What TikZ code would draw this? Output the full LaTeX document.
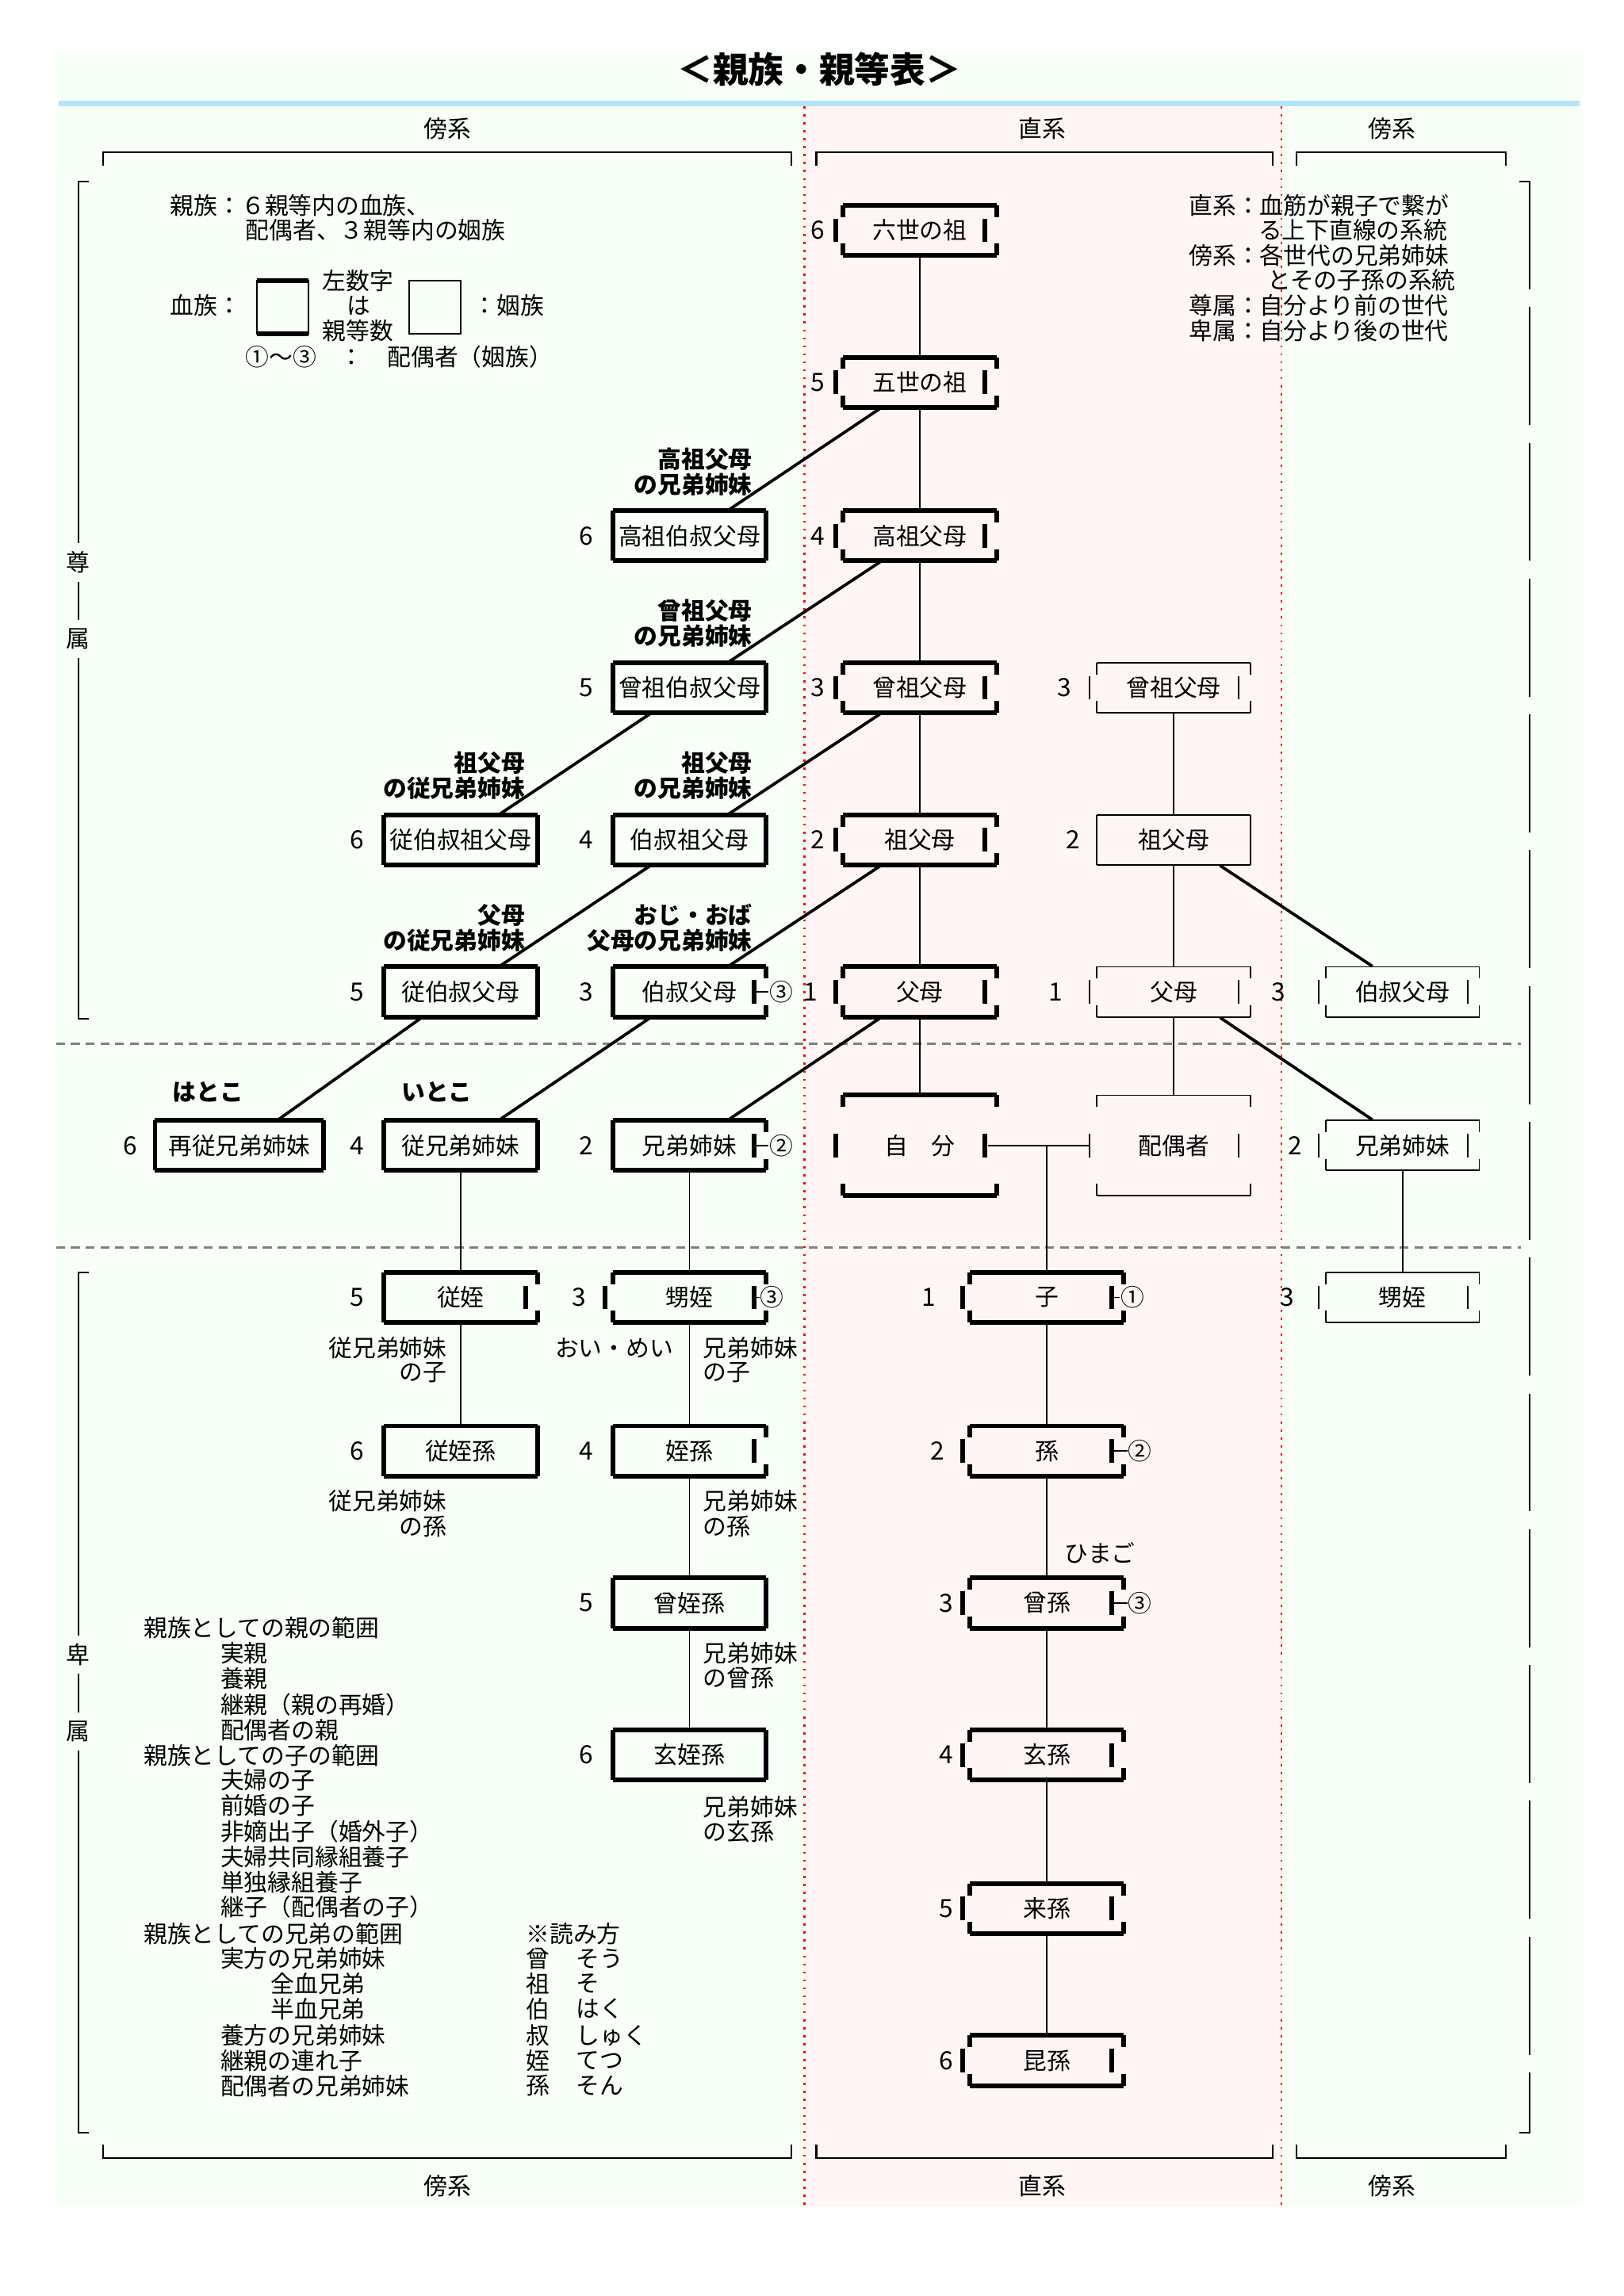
\documentclass[tikz,border=0pt]{standalone}
\usepackage{fontspec}
\setmainfont{Noto Sans CJK JP}
\begin{document}
\newcommand\kbox[9]{%
 \node[minimum width=#4pt,minimum height=#5pt] (#1) at (#2,#3) {#6};
 \draw[line width=#7] (#2-#4,#3-#5) -- (#2+#4,#3-#5) (#2-#4,#3+#5) -- (#2+#4,#3+#5);
 \if f#8 \draw[line width=#7] (#2-#4,#3-#5)--(#2-#4,#3+#5);
 \else \draw[line width=#7] (#2-#4,#3-#5)--(#2-#4,#3-#5+8) (#2-#4,#3+#5)--(#2-#4,#3+#5-8) (#2-#4-5,#3-8)--(#2-#4-5,#3+8);\fi
 \if f#9 \draw[line width=#7] (#2+#4,#3-#5)--(#2+#4,#3+#5);
 \else \draw[line width=#7] (#2+#4,#3-#5)--(#2+#4,#3-#5+8) (#2+#4,#3+#5)--(#2+#4,#3+#5-8) (#2+#4-8,#3-8)--(#2+#4-8,#3+8);\fi
}
\begin{tikzpicture}[x=0.5pt,y=-0.5pt,
 every node/.style={inner sep=0,font=\fontsize{8pt}{9pt}\selectfont},
 conn/.style={line width=0.5pt},
 diag/.style={line width=1pt},
 br/.style={line width=0.6pt},
 lbl/.style={font=\bfseries\fontsize{8pt}{9pt}\selectfont,anchor=east},
 num/.style={font=\fontsize{8.5pt}{9pt}\selectfont},
 tk/.style={line width=1.6pt}, tn/.style={line width=0.5pt}]
\useasboundingbox (0,0) rectangle (1100,1555.5);
\fill[white] (0,0) rectangle (1100,1555.5);
\fill[green!3!white] (38,35) rectangle (1072,1495);
\fill[red!4!white] (545,72) rectangle (868,1495);
\draw[red,dotted,line width=0.7pt] (545,72)--(545,1495) (868,72)--(868,1495);
\draw[gray,dashed,line width=0.8pt,dash pattern=on 3pt off 2pt] (38,707)--(1030,707) (38,845)--(1030,845);
\draw[cyan!30!white,line width=2pt] (40,70)--(1070,70);
\node[font=\bfseries\fontsize{12pt}{14pt}\selectfont] (title) at (555,47) {＜親族・親等表＞};
\node (h1) at (303,87) {傍系}; \node (h2) at (706,87) {直系}; \node (h3) at (943,87) {傍系};
\node (f1) at (303,1481) {傍系}; \node (f2) at (706,1481) {直系}; \node (f3) at (943,1481) {傍系};
\draw[br] (70,112)--(70,103)--(536,103)--(536,112) (553,112)--(553,103)--(862,103)--(862,112) (878,112)--(878,103)--(1020,103)--(1020,112);
\draw[br] (70,1453)--(70,1462)--(536,1462)--(536,1453) (553,1453)--(553,1462)--(862,1462)--(862,1453) (878,1453)--(878,1462)--(1020,1462)--(1020,1453);
\draw[br] (60,123)--(53,123)--(53,368) (53,394)--(53,420) (53,446)--(53,690)--(60,690);
\draw[br] (60,862)--(53,862)--(53,1108) (53,1134)--(53,1160) (53,1186)--(53,1445)--(60,1445);
\draw[br,dash pattern=on 40pt off 6pt] (1029,123)--(1036,123)--(1036,1445)--(1029,1445);
\node (s1) at (53,381) {尊}; \node (s2) at (53,433) {属};
\node (s3) at (53,1121) {卑}; \node (s4) at (53,1173) {属};
% legend
\node[anchor=west] (lg1) at (115,139) {親族：６親等内の血族、};
\node[anchor=west] (lg2) at (166,156) {配偶者、３親等内の姻族};
\node[anchor=west] (lg3) at (115,207) {血族：};
\draw[tn] (174,190) rectangle (209,226); \draw[tk] (174,190)--(209,190) (174,226)--(209,226);
\node[anchor=west] (lg4) at (218,190) {左数字}; \node (lg5) at (243,207) {は}; \node[anchor=west] (lg6) at (218,224) {親等数};
\draw[tn] (277,190) rectangle (312,226);
\node[anchor=west] (lg7) at (320,207) {：姻族};
\node[anchor=west] (lg8) at (166,242) {①〜③　：　配偶者（姻族）};
\node[anchor=west] (r1) at (805,139) {直系：血筋が親子で繋が};
\node[anchor=west] (r2) at (852,156) {る上下直線の系統};
\node[anchor=west] (r3) at (805,173) {傍系：各世代の兄弟姉妹};
\node[anchor=west] (r4) at (858,190) {とその子孫の系統};
\node[anchor=west] (r5) at (805,207) {尊属：自分より前の世代};
\node[anchor=west] (r6) at (805,224) {卑属：自分より後の世代};
% boxes
\kbox{A6}{162}{776}{57}{17}{再従兄弟姉妹}{1.6pt}{f}{f}
\kbox{B1}{312}{569}{52}{17}{従伯叔祖父母}{1.6pt}{f}{f}
\kbox{B2}{312}{672}{52}{17}{従伯叔父母}{1.6pt}{f}{f}
\kbox{B3}{312}{776}{52}{17}{従兄弟姉妹}{1.6pt}{f}{f}
\kbox{B4}{312}{879}{52}{17}{従姪}{1.6pt}{f}{b}
\kbox{B5}{312}{983}{52}{17}{従姪孫}{1.6pt}{f}{f}
\kbox{C1}{467}{363}{52}{17}{高祖伯叔父母}{1.6pt}{f}{f}
\kbox{C2}{467}{466}{52}{17}{曾祖伯叔父母}{1.6pt}{f}{f}
\kbox{C3}{467}{569}{52}{17}{伯叔祖父母}{1.6pt}{f}{f}
\kbox{C4}{467}{672}{52}{17}{伯叔父母}{1.6pt}{f}{b}
\kbox{C5}{467}{776}{52}{17}{兄弟姉妹}{1.6pt}{f}{b}
\kbox{C6}{467}{879}{52}{17}{甥姪}{1.6pt}{b}{b}
\kbox{C7}{467}{983}{52}{17}{姪孫}{1.6pt}{f}{b}
\kbox{C8}{467}{1086}{52}{17}{曾姪孫}{1.6pt}{f}{f}
\kbox{C9}{467}{1189}{52}{17}{玄姪孫}{1.6pt}{f}{f}
\kbox{D1}{623}{156}{52}{17}{六世の祖}{1.6pt}{b}{b}
\kbox{D2}{623}{259}{52}{17}{五世の祖}{1.6pt}{b}{b}
\kbox{D3}{623}{363}{52}{17}{高祖父母}{1.6pt}{b}{b}
\kbox{D4}{623}{466}{52}{17}{曾祖父母}{1.6pt}{b}{b}
\kbox{D5}{623}{569}{52}{17}{祖父母}{1.6pt}{b}{b}
\kbox{D6}{623}{672}{52}{17}{父母}{1.6pt}{b}{b}
\kbox{self}{623}{776}{52}{34}{自　分}{1.6pt}{b}{b}
\kbox{K1}{709}{879}{52}{17}{子}{1.6pt}{b}{b}
\kbox{K2}{709}{983}{52}{17}{孫}{1.6pt}{b}{b}
\kbox{K3}{709}{1086}{52}{17}{曾孫}{1.6pt}{b}{b}
\kbox{K4}{709}{1189}{52}{17}{玄孫}{1.6pt}{b}{b}
\kbox{K5}{709}{1293}{52}{17}{来孫}{1.6pt}{b}{b}
\kbox{K6}{709}{1396}{52}{17}{昆孫}{1.6pt}{b}{b}
\kbox{E1}{795}{466}{52}{17}{曾祖父母}{0.5pt}{b}{b}
\kbox{E2}{795}{569}{52}{17}{祖父母}{0.5pt}{f}{f}
\kbox{E3}{795}{672}{52}{17}{父母}{0.5pt}{b}{b}
\kbox{sp}{795}{776}{52}{34}{配偶者}{0.5pt}{b}{b}
\kbox{F1}{950}{672}{52}{17}{伯叔父母}{0.5pt}{b}{b}
\kbox{F2}{950}{776}{52}{17}{兄弟姉妹}{0.5pt}{b}{b}
\kbox{F3}{950}{879}{52}{17}{甥姪}{0.5pt}{b}{b}
% numbers
\node[num] (nA6) at (88,776) {6};
\node[num] (nB1) at (242,569) {6}; \node[num] (nB2) at (242,672) {5}; \node[num] (nB3) at (242,776) {4}; \node[num] (nB4) at (242,879) {5}; \node[num] (nB5) at (242,983) {6};
\node[num] (nC1) at (397,363) {6}; \node[num] (nC2) at (397,466) {5}; \node[num] (nC3) at (397,569) {4}; \node[num] (nC4) at (397,672) {3}; \node[num] (nC5) at (397,776) {2}; \node[num] (nC6) at (392,879) {3}; \node[num] (nC7) at (397,983) {4}; \node[num] (nC8) at (397,1086) {5}; \node[num] (nC9) at (397,1189) {6};
\node[num] (nD1) at (554,156) {6}; \node[num] (nD2) at (554,259) {5}; \node[num] (nD3) at (554,363) {4}; \node[num] (nD4) at (554,466) {3}; \node[num] (nD5) at (554,569) {2}; \node[num] (nD6) at (549,672) {1};
\node[num] (nK1) at (629,879) {1}; \node[num] (nK2) at (635,983) {2}; \node[num] (nK3) at (641,1086) {3}; \node[num] (nK4) at (641,1189) {4}; \node[num] (nK5) at (641,1293) {5}; \node[num] (nK6) at (641,1396) {6};
\node[num] (nE1) at (721,466) {3}; \node[num] (nE2) at (727,569) {2}; \node[num] (nE3) at (715,672) {1};
\node[num] (nF1) at (866,672) {3}; \node[num] (nF2) at (877,776) {2}; \node[num] (nF3) at (872,879) {3};
% circled
\node (oC4) at (529,672) {③}; \node (oC5) at (529,776) {②}; \node (oC6) at (523,879) {③};
\node (oK1) at (767,879) {①}; \node (oK2) at (772,983) {②}; \node (oK3) at (772,1086) {③};
\foreach \b/\o in {C4/oC4,C5/oC5,C6/oC6,K1/oK1,K2/oK2,K3/oK3} \draw[conn] ([xshift=-4pt]\b.east) -- (\o.west);
% verticals
\foreach \a/\b in {D1/D2,D2/D3,D3/D4,D4/D5,D5/D6,D6/self,E1/E2,E2/E3,E3/sp,F2/F3,B3/B4,B4/B5,C5/C6,C6/C7,C7/C8,C8/C9,K1/K2,K2/K3,K3/K4,K4/K5,K5/K6}
 \draw[conn] (\a.south) -- (\b.north);
\draw[conn] ([xshift=-3pt]self.east) -- ([xshift=-2.5pt]sp.west);
\coordinate (tj) at (709,776);
\draw[conn] (tj) -- (K1.north);
% diagonals
\foreach \a/\b in {D2/C1,D3/C2,D4/C3,D5/C4,D6/C5,C2/B1,C3/B2,C4/B3}
 \draw[diag] ([xshift=13pt]\a.south west) -- ([xshift=-13pt]\b.north east);
\draw[diag] ([xshift=13pt]B2.south west) -- ([xshift=-15.5pt]A6.north east);
\draw[diag] ([xshift=-10.5pt]E2.south east) -- ([xshift=16pt]F1.north west);
\draw[diag] ([xshift=-10.5pt]E3.south east) -- ([xshift=16pt]F2.north west);
% labels
\node[lbl] (L1) at (510,311) {高祖父母}; \node[lbl] (L1b) at (510,328) {の兄弟姉妹};
\node[lbl] (L2) at (510,414) {曾祖父母}; \node[lbl] (L2b) at (510,431) {の兄弟姉妹};
\node[lbl] (L3) at (356,517) {祖父母}; \node[lbl] (L3b) at (356,534) {の従兄弟姉妹};
\node[lbl] (L4) at (510,517) {祖父母}; \node[lbl] (L4b) at (510,534) {の兄弟姉妹};
\node[lbl] (L5) at (356,620) {父母}; \node[lbl] (L5b) at (356,637) {の従兄弟姉妹};
\node[lbl] (L6) at (510,620) {おじ・おば}; \node[lbl] (L6b) at (510,637) {父母の兄弟姉妹};
\node[lbl,anchor=center] (L7) at (141,740) {はとこ}; \node[lbl,anchor=center] (L8) at (296,740) {いとこ};
\node[anchor=east] (u1) at (303,913) {従兄弟姉妹}; \node[anchor=east] (u1b) at (303,930) {の子};
\node (u2) at (416,913) {おい・めい};
\node[anchor=west] (u3) at (476,913) {兄弟姉妹}; \node[anchor=west] (u3b) at (476,930) {の子};
\node[anchor=east] (u4) at (303,1017) {従兄弟姉妹}; \node[anchor=east] (u4b) at (303,1034) {の孫};
\node[anchor=west] (u5) at (476,1017) {兄弟姉妹}; \node[anchor=west] (u5b) at (476,1034) {の孫};
\node[anchor=west] (u6) at (476,1120) {兄弟姉妹}; \node[anchor=west] (u6b) at (476,1137) {の曾孫};
\node[anchor=west] (u7) at (476,1224) {兄弟姉妹}; \node[anchor=west] (u7b) at (476,1241) {の玄孫};
\node (u8) at (745,1052) {ひまご};
% list
\foreach \t/\x/\y [count=\i] in {親族としての親の範囲/97/1103,実親/149/1120,養親/149/1137,継親（親の再婚）/149/1155,配偶者の親/149/1172,親族としての子の範囲/97/1189,夫婦の子/149/1206,前婚の子/149/1223,非嫡出子（婚外子）/149/1241,夫婦共同縁組養子/149/1258,単独縁組養子/149/1275,継子（配偶者の子）/149/1292,親族としての兄弟の範囲/97/1310,実方の兄弟姉妹/149/1327,全血兄弟/183/1344,半血兄弟/183/1361,養方の兄弟姉妹/149/1379,継親の連れ子/149/1396,配偶者の兄弟姉妹/149/1413}
 \node[anchor=west] (li\i) at (\x,\y) {\t};
\node[anchor=west] (rd) at (356,1310) {※読み方};
\foreach \k/\r/\y [count=\i] in {曾/そう/1327,祖/そ/1344,伯/はく/1361,叔/しゅく/1379,姪/てつ/1396,孫/そん/1413}
 {\node[anchor=west] (rk\i) at (356,\y) {\k}; \node[anchor=west] (rr\i) at (390,\y) {\r};}
\end{tikzpicture}
\end{document}
